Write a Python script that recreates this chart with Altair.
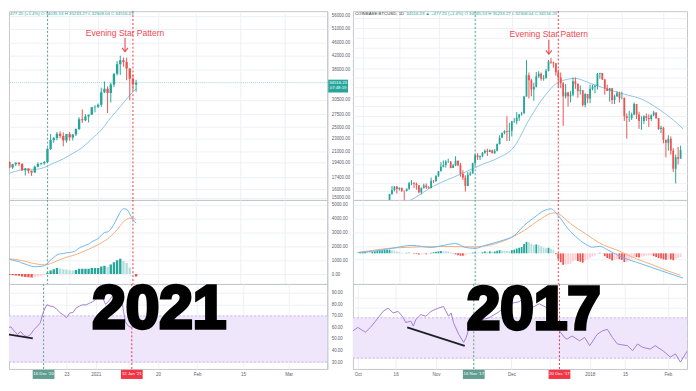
import altair as alt
import pandas as pd

# ---------------- styling ----------------
GREEN = "#26a69a"
RED = "#ef5350"
ANNOT_RED = "#f0474f"
MA_BLUE = "#8fc5e6"
MACD_BLUE = "#6cb8ee"
SIGNAL_ORANGE = "#f6ad78"
RSI_PURPLE = "#a47fd6"
BAND = "#efe6fc"
GRID = "#eef0f4"
BORDER = "#c3c6cc"
LABEL = "#5d606b"
FONT = "Liberation Sans"

W_L, W_R = 322, 338
H_P, H_M, H_R = 191, 85, 86

# ---------------- 2021 (left) data ----------------
days21 = pd.date_range("2020-12-04", "2021-01-13").strftime("%Y-%m-%d").tolist()
open21 = [19440, 18690, 19150, 19360, 19170, 18320, 18550, 18250, 18030, 18800, 19170, 19270, 19440, 21350,
          22800, 23120, 23850, 23480, 22720, 23810, 23230, 23730, 24710, 26490, 26280, 27040, 27370, 28890,
          28990, 29400, 32200, 33000, 32030, 34030, 36820, 39400, 40600, 40090, 38200, 35500, 34035]
high21 = [19520, 19170, 19410, 19420, 19290, 18630, 18560, 18280, 18950, 19400, 19350, 19570, 21560, 23800,
          23280, 24170, 24280, 24100, 23830, 24150, 23780, 24790, 26870, 28420, 27500, 27400, 28990, 29300,
          29680, 33300, 34800, 33600, 34500, 36900, 40360, 41950, 41380, 41350, 38260, 36600, 35233]
low21 = [18580, 18500, 18880, 18900, 18200, 17650, 17910, 17580, 18000, 18720, 19000, 19050, 19300, 21240,
         22350, 22750, 23080, 21800, 22350, 22700, 22720, 23460, 24500, 25800, 26100, 25880, 27320, 27850,
         28690, 28950, 32000, 27680, 29900, 33400, 36350, 36500, 38720, 35110, 30400, 32500, 32308]
close21 = [18690, 19150, 19360, 19170, 18320, 18550, 18250, 18030, 18800, 19170, 19270, 19440, 21350, 22800,
           23120, 23850, 23480, 22720, 23810, 23230, 23730, 24710, 26490, 26280, 27040, 27370, 28890, 28990,
           29400, 32200, 33000, 32030, 34030, 36820, 39400, 40600, 40090, 38200, 35500, 34035, 34516]
macd21 = [1080, 1000, 950, 900, 790, 720, 640, 560, 530, 540, 560, 600,
          780, 1020, 1200, 1380, 1460, 1480, 1540, 1560, 1600, 1700, 1880, 1980, 2080, 2170, 2330, 2450,
          2560, 2800, 3000, 3050, 3250, 3600, 4050, 4480, 4720, 4680, 4350, 3950, 3680]
signal21 = [1100, 1080, 1050, 1020, 970, 920, 860, 800, 750, 710, 680, 670,
            690, 760, 850, 950, 1050, 1130, 1210, 1280, 1340, 1410, 1500, 1600, 1700, 1790, 1900, 2010,
            2120, 2250, 2400, 2530, 2750, 2950, 3200, 3500, 3780, 3960, 4040, 4020, 3950]
hist21 = [-60, -90, -110, -130, -180, -210, -230, -250, -220, -170, -120, -70,
          90, 260, 350, 430, 410, 350, 330, 280, 260, 290, 380, 380, 380, 390, 430, 440,
          440, 550, 600, 520, 700, 850, 1000, 1100, 950, 800, 450, 40, -170]
ma21_days = ["2020-12-03", "2020-12-06", "2020-12-09", "2020-12-12", "2020-12-15", "2020-12-18",
             "2020-12-21", "2020-12-24", "2020-12-27", "2020-12-30", "2021-01-02", "2021-01-05",
             "2021-01-08", "2021-01-11", "2021-01-13"]
ma21 = [17800, 18190, 18450, 18450, 18700, 19300, 19900, 20700, 21600, 23000, 24500, 26800, 29000, 31500, 33000]
rsi21_days = pd.date_range("2020-12-03", "2021-01-13").strftime("%Y-%m-%d").tolist()
rsi21 = [60.7, 58.5, 59.5, 60.5, 57, 54, 56.4, 53, 52, 53.8,
         58, 60.7, 64, 74, 79.7, 78.5, 78, 76, 72.8, 71,
         68.4, 72.5, 73, 77, 78.5, 79.7, 79.5, 81, 82.2,
         84.5, 88.3, 86, 80, 83, 87, 90, 91, 82, 65, 61, 60, 62]
trend21_days = ["2020-12-03T00:00:00Z", "2020-12-12T17:00:00Z"]
trend21 = [54.9, 50.6]
price_ticks21 = [15000, 16000, 17400, 19400, 21000, 23000, 25000, 27500, 30500, 38000, 42000, 46000, 51000, 56000]
time_ticks21 = ["2020-12-16", "2020-12-23", "2021-01-01", "2021-01-11", "2021-01-20", "2021-02-01",
                "2021-02-15", "2021-03-01"]
hidden_ticks21 = ["2020-12-16", "2021-01-11"]

# ---------------- 2017 (right) data ----------------
days17 = pd.date_range("2017-10-10", "2018-02-08").strftime("%Y-%m-%d").tolist()
close17 = [4770, 4830, 5430, 5640, 5830, 5690, 5750, 5600, 5580, 5700, 6010, 6020, 5980, 5900, 5520, 5740,
           5890, 5780, 5750, 6150, 6130, 6450,
           6740, 7030, 7160, 7380, 7390, 6960, 7120, 7460, 7140, 6570, 6340, 5860, 6520, 6600, 7280, 7850,
           7700, 7780, 8040, 8200, 8100, 8240, 8010, 8200, 8750, 9290, 9720, 9890, 9830, 9920,
           10860, 10900, 11240, 11600, 11700, 13750, 16850, 16050, 14700, 15100, 16700, 17100, 16300, 16400,
           17600, 19200, 19050, 18900, 17350, 16500, 15600, 13800, 14300, 13800, 14000, 15900, 15500, 14500,
           14600, 12700, 14100,
           13500, 14800, 15100, 15200, 17100, 17200, 16200, 14900, 14500, 14900, 13300, 13800, 14200, 13600,
           13600, 11400, 11200, 11200, 11600, 12800, 11600, 10900, 10900, 11400, 11200, 11100, 11500, 11800,
           11200, 10100, 10200,
           9100, 8850, 9200, 8200, 6900, 7700, 7600, 8250]
high17 = [4920, 4880, 5440, 5850, 5840, 5850, 5780, 5770, 5600, 5720, 6090, 6200, 6080, 6050, 5900, 5780,
          5990, 6000, 5850, 6350, 6200, 6470,
          6760, 7350, 7470, 7500, 7600, 7420, 7230, 7780, 7470, 7300, 6800, 6480, 6700, 6730, 7320, 7980,
          8000, 7840, 8100, 8300, 8360, 8300, 8290, 8330, 8780, 9500, 9750, 9970, 11400, 10700,
          10900, 11200, 11850, 11650, 11900, 13850, 19460, 17300, 16300, 15700, 17400, 17500, 17300, 16900,
          17900, 19500, 19891, 19200, 18950, 17800, 17300, 15800, 15500, 14400, 14500, 16500, 16500, 15600,
          15300, 14650, 14200,
          14100, 15400, 15400, 15400, 17200, 17250, 17200, 16300, 15400, 14900, 14900, 14000, 14500, 14400,
          14400, 13600, 11700, 12000, 11800, 13000, 12800, 11900, 11400, 11500, 11700, 11600, 11600, 12000,
          11800, 11200, 10400,
          10300, 9100, 9500, 9400, 8400, 7900, 8500, 8600]
low17 = [4740, 4760, 4820, 5380, 5560, 5450, 5600, 5530, 5100, 5560, 5640, 5900, 5740, 5650, 5460, 5400,
         5720, 5690, 5700, 5720, 6030, 6110,
         6380, 6740, 7000, 6980, 7300, 6930, 6960, 7080, 7060, 6400, 6200, 5555, 5840, 6450, 6600, 7120,
         7500, 7500, 7700, 7960, 7800, 8090, 8000, 7970, 8150, 8700, 9290, 9600, 9000, 9000,
         9400, 10700, 10550, 10900, 11450, 11700, 13750, 13500, 13800, 13200, 15000, 16400, 16000, 16000,
         16300, 17500, 18800, 18100, 16800, 15000, 14900, 10400, 13500, 12500, 13000, 13800, 14800, 13600,
         14000, 12500, 12400,
         12900, 12900, 14600, 14200, 14700, 16300, 16100, 14000, 14500, 13100, 12800, 12800, 13700, 13000,
         13400, 10900, 9200, 10800, 11000, 11500, 11100, 10100, 10000, 10600, 10900, 10300, 10900, 11400,
         11100, 10000, 9700,
         8800, 7700, 8200, 7900, 6700, 6000, 7200, 7600]
first_open17 = 4780
hist17_days = pd.date_range("2017-09-30", "2018-02-08").strftime("%Y-%m-%d").tolist()
hist17 = [80,
          90, 100, 90, 70, 80, 110, 140, 160, 170, 175, 180, 190, 170, 140, 100, 70, 40, 20, 30, 30,
          10, -20, -40, -60, -50, -40, -50, -30, 30, 60, 90,
          110, 130, 120, 110, 100, 50, -20, -60, -100, -130, -130, -110, -40, 10, 40, 50, 40, 30, 60, 100,
          90, 110, 90, 100, 140, 170, 150, 140, 130, 120,
          170, 200, 260, 300, 340, 500, 620, 600, 520, 460, 480, 450, 380, 310, 270, 300, 250, 170, -50, -300,
          -480, -620, -600, -580, -560, -420, -380, -420, -450, -500, -380,
          -330, -250, -170, -120, -40, 30, 20, -150, -250, -300, -380, -350, -300, -320, -350, -470, -460,
          -380, -300, -200, -200, -220, -180, -150, -120, -110, -100, -150, -200, -260, -280,
          -330, -350, -310, -330, -370, -300, -250, -200]
macd17_days = ["2017-09-29", "2017-10-08", "2017-10-15", "2017-10-21", "2017-10-29", "2017-11-03",
               "2017-11-08", "2017-11-12", "2017-11-16", "2017-11-20", "2017-11-27", "2017-12-02",
               "2017-12-06", "2017-12-10", "2017-12-14", "2017-12-17", "2017-12-20", "2017-12-24",
               "2017-12-28", "2018-01-01", "2018-01-03", "2018-01-06", "2018-01-09", "2018-01-15",
               "2018-01-21", "2018-01-27", "2018-02-03", "2018-02-09"]
macd17 = [40, 160, 320, 430, 320, 430, 530, 320, 270, 430, 690, 960, 1500, 1920, 2290, 2400, 2030, 1330,
          800, 430, 330, 380, 200, -210, -480, -750, -1070, -1330]
signal17_days = ["2017-09-29", "2017-10-15", "2017-11-03", "2017-11-16", "2017-11-27", "2017-12-06",
                 "2017-12-13", "2017-12-18", "2017-12-20", "2017-12-25", "2017-12-31", "2018-01-06",
                 "2018-01-14", "2018-01-21", "2018-01-27", "2018-02-03", "2018-02-08"]
signal17 = [40, 300, 370, 350, 640, 1230, 1870, 2180, 2130, 1600, 1070, 550, 120, -300, -590, -960, -1180]
ma17_days = ["2017-10-10", "2017-10-20", "2017-10-30", "2017-11-10", "2017-11-19", "2017-11-25",
             "2017-12-02", "2017-12-08", "2017-12-15", "2017-12-20", "2017-12-27", "2018-01-01",
             "2018-01-09", "2018-01-16", "2018-01-23", "2018-01-30", "2018-02-05", "2018-02-09"]
ma17 = [4700, 5080, 5850, 6550, 7200, 7620, 8530, 11000, 14060, 15750, 16360, 15750, 14750, 14060,
        13420, 12210, 11000, 10110]
rsi17_days = ["2017-09-29", "2017-10-01", "2017-10-04", "2017-10-06", "2017-10-08", "2017-10-11",
              "2017-10-13", "2017-10-15", "2017-10-17", "2017-10-19", "2017-10-20", "2017-10-22",
              "2017-10-23", "2017-10-24", "2017-10-26", "2017-10-28", "2017-10-30", "2017-11-02",
              "2017-11-04", "2017-11-06", "2017-11-07", "2017-11-08", "2017-11-10", "2017-11-12",
              "2017-11-13", "2017-11-14", "2017-11-16", "2017-11-19", "2017-11-22", "2017-11-26",
              "2017-11-29", "2017-12-02", "2017-12-04", "2017-12-07", "2017-12-09", "2017-12-12",
              "2017-12-15", "2017-12-16", "2017-12-18", "2017-12-19", "2017-12-20", "2017-12-22",
              "2017-12-23", "2017-12-25", "2017-12-28", "2017-12-30", "2018-01-01", "2018-01-04",
              "2018-01-06", "2018-01-08", "2018-01-10", "2018-01-12", "2018-01-16", "2018-01-18",
              "2018-01-20", "2018-01-22", "2018-01-25", "2018-01-27", "2018-01-30", "2018-02-02",
              "2018-02-04", "2018-02-06", "2018-02-08", "2018-02-10"]
rsi17 = [57, 60.5, 55.7, 60.5, 66.7, 76.4, 79.7, 74.9, 76.4, 70.3, 65.4, 66.7, 61.8, 68.3, 73.2, 71.6,
         76.4, 79.8, 81.3, 71.6, 74.9, 65, 53.7, 45.6, 50.5, 58.6, 63.5, 68, 70, 76, 83, 85, 86, 92, 80,
         84, 80, 82, 73.2, 61.8, 57, 50.5, 48.8, 52, 47.2, 50.5, 42.3, 53.7, 57, 58.6, 50.5, 44, 42.3,
         37.4, 44, 40.7, 39, 42.3, 37.4, 31, 34.2, 26, 34.2, 42.3]
trend17_days = ["2017-10-20T14:00:00Z", "2017-11-12T10:00:00Z"]
trend17 = [60.5, 42.1]
price_ticks17 = [5600, 6000, 6600, 7200, 8000, 8800, 9600, 10400, 11400, 12600, 13800, 15000, 16500,
                 18000, 20000, 22000, 24000, 26500, 29000]
time_ticks17 = ["2017-10-01", "2017-10-16", "2017-11-01", "2017-11-16", "2017-12-01", "2017-12-16",
                "2018-01-01", "2018-01-15", "2018-02-01"]
hidden_ticks17 = ["2017-11-16", "2017-12-16"]

# annotations
star21 = {"d": "2021-01-09T12:00:00Z", "p": 49440, "a_top": 47700, "a_tip": 43170}
star17 = {"d": "2017-12-16T03:00:00Z", "p": 24890, "a_top": 23630, "a_tip": 20610}
vlines21 = [("2020-12-16", "#5f9e90", "16 Dec '20"), ("2021-01-12", "#f23645", "12 Jan '21")]
vlines17 = [("2017-11-16", "#5f9e90", "16 Nov '17"), ("2017-12-20", "#f23645", "20 Dec '17")]
big21 = ("2021-01-20T09:00:00Z", 59.8, "2021")
big17 = ("2017-12-09T20:00:00Z", 58.6, "2017")
last_price = 34516.23
header_left = "477.25 (+1.4%)  O 34035.53  H 35233.27  L 32308.04  C 34516.23"
header_sym = "COINBASE:BTCUSD, 1D"
header_right = "34516.23  \u25b2 +477.25 (+1.4%)  O 34035.53  H 35233.27  L 32308.04  C 34516.23"


# ---------------- helpers ----------------
def dt(s):
    t = pd.Timestamp(s)
    return alt.DateTime(year=t.year, month=t.month, date=t.day, hours=t.hour, minutes=t.minute, utc=True)


def label_expr(hidden):
    arr = "[" + ",".join("'%s'" % h for h in hidden) + "]"
    return ("indexof(" + arr + ", utcFormat(datum.value, '%Y-%m-%d')) >= 0 ? '' : "
            "(utcdate(datum.value) == 1 ? (utcmonth(datum.value) == 0 ? utcFormat(datum.value, '%Y') : "
            "utcFormat(datum.value, '%b')) : utcFormat(datum.value, '%d'))")


def xenc(scale, ticks, labels, hidden):
    return alt.X("d:T", scale=scale, axis=alt.Axis(
        values=[dt(t) for t in ticks], labels=labels, labelExpr=label_expr(hidden), labelFontSize=4.6,
        labelColor=LABEL, labelPadding=3, ticks=False, domain=False, grid=True,
        gridColor=GRID, title=None, labelFont=FONT))


def yaxis(ticks, labels, fmt=".2f"):
    return alt.Axis(orient="right", values=ticks, labels=labels, format=fmt, labelFontSize=4.5,
                    labelColor=LABEL, labelPadding=4, ticks=False, domain=labels, domainColor=BORDER,
                    grid=True, gridColor=GRID, title=None, labelFont=FONT)


def hist_colors(vals):
    out, prev = [], None
    for v in vals:
        if v >= 0:
            out.append(GREEN if (prev is None or v >= prev) else "#b2dfdb")
        else:
            out.append(RED if (prev is None or v <= prev) else "#ffcdd2")
        prev = v
    return out


def vline_layer(vl, xe):
    df = pd.DataFrame({"d": [v[0] for v in vl], "c": [v[1] for v in vl]})
    return alt.Chart(df).mark_rule(strokeDash=[2, 2], strokeWidth=1).encode(
        x=xe, color=alt.Color("c:N", scale=None))


def price_pane(days, o, h, l, c, ma_days, ma, ys, yax, xe, vl, star, bar_size):
    df = pd.DataFrame({"d": days, "op": o, "hi": h, "lo": l, "cl": c})
    df["col"] = [GREEN if cc >= oo else RED for oo, cc in zip(o, c)]
    wick = alt.Chart(df).mark_rule(strokeWidth=1, clip=True).encode(
        x=xe, y=alt.Y("lo:Q", scale=ys, axis=yax), y2="hi:Q", color=alt.Color("col:N", scale=None))
    body = alt.Chart(df).mark_bar(size=bar_size, clip=True).encode(
        x=xe, y=alt.Y("op:Q", scale=ys, axis=yax), y2="cl:Q", color=alt.Color("col:N", scale=None))
    ma_line = alt.Chart(pd.DataFrame({"d": ma_days, "m": ma})).mark_line(
        color=MA_BLUE, strokeWidth=1, clip=True, interpolate="monotone").encode(
        x=xe, y=alt.Y("m:Q", scale=ys, axis=yax))
    sdf = pd.DataFrame({"d": [star["d"]], "p": [star["p"]], "a1": [star["a_top"]], "a2": [star["a_tip"]],
                        "t": ["Evening Star Pattern"]})
    s_text = alt.Chart(sdf).mark_text(color=ANNOT_RED, fontSize=8.6, font=FONT, baseline="middle").encode(
        x=xe, y=alt.Y("p:Q", scale=ys, axis=yax), text="t:N")
    s_shaft = alt.Chart(sdf).mark_rule(color=ANNOT_RED, strokeWidth=1.1).encode(
        x=xe, y=alt.Y("a1:Q", scale=ys, axis=yax), y2="a2:Q")
    s_head = alt.Chart(sdf).mark_point(shape="M-1,-1.3L0,0L1,-1.3", filled=False, size=36,
                                       color=ANNOT_RED, strokeWidth=1.1, opacity=1).encode(
        x=xe, y=alt.Y("a2:Q", scale=ys, axis=yax))
    return [vline_layer(vl, xe), ma_line, wick, body, s_text, s_shaft, s_head]


# ---------------- scales ----------------
xsL = alt.Scale(type="utc", domain=[dt("2020-12-05T10:05"), dt("2021-03-12T19:00")])
xsR = alt.Scale(type="utc", domain=[dt("2017-09-29T01:26"), dt("2018-02-08T14:38")])
ysL = alt.Scale(type="log", domain=[14787, 57853], nice=False)
ysR = alt.Scale(type="log", domain=[5126, 31070], nice=False)
msL = alt.Scale(domain=[-714, 5357], nice=False, zero=False)
msR = alt.Scale(domain=[-1650, 2880], nice=False, zero=False)
rsL = alt.Scale(domain=[24, 97.7], nice=False, zero=False)
rsR = alt.Scale(domain=[19.2, 103.7], nice=False, zero=False)

xL_top = xenc(xsL, time_ticks21, False, hidden_ticks21)
xL_bot = xenc(xsL, time_ticks21, True, hidden_ticks21)
xR_top = xenc(xsR, time_ticks17, False, hidden_ticks17)
xR_bot = xenc(xsR, time_ticks17, True, hidden_ticks17)

# ---------------- price panes ----------------
yaxL = yaxis(price_ticks21, True)
yaxR = yaxis(price_ticks17, False)
layersL = price_pane(days21, open21, high21, low21, close21, ma21_days, ma21, ysL, yaxL, xL_top,
                     vlines21, star21, 2.4)
pl_df = pd.DataFrame({"p": [last_price], "t1": ["34516.23"], "t2": ["07:48:19"]})
price_line = alt.Chart(pl_df).mark_rule(color="#9fd8d1", strokeWidth=1, strokeDash=[1, 1]).encode(
    y=alt.Y("p:Q", scale=ysL, axis=yaxL))
price_box = alt.Chart(pl_df).mark_point(shape="M-1,-0.3L1,-0.3L1,1.0L-1,1.0Z", size=400, filled=True,
                                        color=GREEN, opacity=1).encode(
    x=alt.value(W_L + 11), y=alt.Y("p:Q", scale=ysL, axis=yaxL))
price_t1 = alt.Chart(pl_df).mark_text(color="white", fontSize=4.3, dy=0).encode(
    x=alt.value(W_L + 11), y=alt.Y("p:Q", scale=ysL, axis=yaxL), text="t1:N")
price_t2 = alt.Chart(pl_df).mark_text(color="white", fontSize=4.3, dy=5.5).encode(
    x=alt.value(W_L + 11), y=alt.Y("p:Q", scale=ysL, axis=yaxL), text="t2:N")
hdrL = alt.Chart(pd.DataFrame({"t": [header_left]})).mark_text(
    align="left", baseline="top", fontSize=4.4, color=GREEN).encode(
    x=alt.value(1), y=alt.value(1), text="t:N")
priceL = alt.layer(price_line, *layersL, price_box, price_t1, price_t2, hdrL).properties(
    width=W_L, height=H_P)

o17 = [first_open17] + close17[:-1]
layersR = price_pane(days17, o17, high17, low17, close17, ma17_days, ma17, ysR, yaxR, xR_top,
                     vlines17, star17, 1.8)
hdrR1 = alt.Chart(pd.DataFrame({"t": [header_sym]})).mark_text(
    align="left", baseline="top", fontSize=4.4, color="#333333").encode(
    x=alt.value(2), y=alt.value(1), text="t:N")
hdrR2 = alt.Chart(pd.DataFrame({"t": [header_right]})).mark_text(
    align="left", baseline="top", fontSize=4.4, color=GREEN).encode(
    x=alt.value(54), y=alt.value(1), text="t:N")
priceR = alt.layer(*layersR, hdrR1, hdrR2).properties(width=W_R, height=H_P)


# ---------------- MACD panes ----------------
def macd_pane(hdays, hist, ldays, lvals, sdays, svals, ms, yax, xe, vl, bar_size, width):
    hdf = pd.DataFrame({"d": hdays, "h": hist, "c": hist_colors(hist)})
    bars = alt.Chart(hdf).mark_bar(size=bar_size, clip=True).encode(
        x=xe, y=alt.Y("h:Q", scale=ms, axis=yax), y2=alt.datum(0), color=alt.Color("c:N", scale=None))
    macd_line = alt.Chart(pd.DataFrame({"d": ldays, "v": lvals})).mark_line(
        color=MACD_BLUE, strokeWidth=1, clip=True, interpolate="monotone").encode(
        x=xe, y=alt.Y("v:Q", scale=ms, axis=yax))
    sig_line = alt.Chart(pd.DataFrame({"d": sdays, "v": svals})).mark_line(
        color=SIGNAL_ORANGE, strokeWidth=1, clip=True, interpolate="monotone").encode(
        x=xe, y=alt.Y("v:Q", scale=ms, axis=yax))
    return alt.layer(vline_layer(vl, xe), bars, sig_line, macd_line).properties(width=width, height=H_M)


macdL = macd_pane(days21, hist21, days21, macd21, days21, signal21, msL,
                  yaxis([0, 1000, 2000, 3000, 4000, 5000], True), xL_top, vlines21, 2.4, W_L)
macdR = macd_pane(hist17_days, hist17, macd17_days, macd17, signal17_days, signal17, msR,
                  yaxis([-300, 400, 1100, 1850, 2600], False), xR_top, vlines17, 1.8, W_R)


# ---------------- RSI panes ----------------
def rsi_pane(rdays, rvals, tdays, tvals, rs, yax, xe, vl, big, width):
    band_df = pd.DataFrame({"lo": [30], "hi": [70]})
    band = alt.Chart(band_df).mark_rect(color=BAND).encode(
        y=alt.Y("hi:Q", scale=rs, axis=yax), y2="lo:Q")
    edges = alt.Chart(pd.DataFrame({"v": [30, 70]})).mark_rule(
        color="#c9b5ef", strokeDash=[2, 2], strokeWidth=1).encode(y=alt.Y("v:Q", scale=rs, axis=yax))
    line = alt.Chart(pd.DataFrame({"d": rdays, "v": rvals})).mark_line(
        color=RSI_PURPLE, strokeWidth=1, clip=True).encode(x=xe, y=alt.Y("v:Q", scale=rs, axis=yax))
    trend = alt.Chart(pd.DataFrame({"d": tdays, "v": tvals})).mark_line(
        color="#1f1f2a", strokeWidth=1.8, clip=True).encode(x=xe, y=alt.Y("v:Q", scale=rs, axis=yax))
    bdf = pd.DataFrame({"d": [big[0]], "v": [big[1]], "t": [big[2]]})
    bigtext = alt.Chart(bdf).mark_text(font=FONT, fontWeight="bold", fontSize=61, color="black",
                                       stroke="black", strokeWidth=3.5, baseline="alphabetic",
                                       align="center").encode(
        x=xe, y=alt.Y("v:Q", scale=rs, axis=yax), text="t:N")
    box_df = pd.DataFrame({"d": [v[0] for v in vl], "c": [v[1] for v in vl], "t": [v[2] for v in vl]})
    boxes = alt.Chart(box_df).mark_point(shape="M-1,-0.42L1,-0.42L1,0.42L-1,0.42Z", size=484,
                                         filled=True, opacity=1).encode(
        x=xe, y=alt.value(H_R + 5.5), color=alt.Color("c:N", scale=None))
    box_txt = alt.Chart(box_df).mark_text(color="white", fontSize=4.4, baseline="middle").encode(
        x=xe, y=alt.value(H_R + 5.5), text="t:N")
    return alt.layer(band, edges, vline_layer(vl, xe), line, trend, bigtext, boxes, box_txt).properties(
        width=width, height=H_R)


rsiL = rsi_pane(rsi21_days, rsi21, trend21_days, trend21, rsL,
                yaxis([30, 40, 50, 60, 70, 80, 90], True), xL_bot, vlines21, big21, W_L)
rsiR = rsi_pane(rsi17_days, rsi17, trend17_days, trend17, rsR,
                yaxis([30, 40, 50, 60, 70, 80, 90], False), xR_bot, vlines17, big17, W_R)

chart = alt.concat(priceL, priceR, macdL, macdR, rsiL, rsiR, columns=2,
                   spacing={"row": 0, "column": 26}, bounds="flush", align="each").properties(
    padding=0, background="white").configure_view(stroke=BORDER, strokeWidth=1).configure_text(font=FONT)

chart.save("out.html", embed_options={"renderer": "svg", "actions": False})
